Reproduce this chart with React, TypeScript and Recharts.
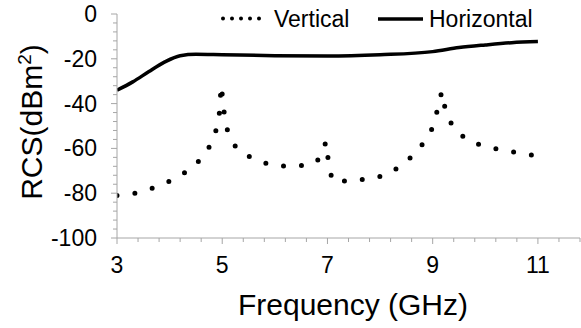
import React from 'react';
import { LineChart, Line, XAxis, YAxis, Legend } from 'recharts';

const vFreq = [3.0, 3.36, 3.7, 4.07, 4.4, 4.67, 4.85, 4.94, 4.98, 5.0, 5.03, 5.1, 5.27, 5.61, 5.97, 6.34, 6.72, 6.87, 6.97, 7.0, 7.05, 7.08, 7.2, 7.39, 7.78, 8.15, 8.48, 8.75, 8.97, 9.08, 9.15, 9.17, 9.2, 9.24, 9.39, 9.69, 10.07, 10.45, 10.83, 11.0];
const vRcs = [-81, -80, -77.6, -74, -69.2, -63, -55, -46, -32, -36, -43, -52, -60, -65, -67.6, -68, -67.1, -64.1, -57.1, -63, -69, -73.5, -75.5, -74, -73.9, -71.6, -66.4, -60, -52.3, -43.7, -37, -34.7, -38, -42.6, -51, -56.8, -59.6, -61.3, -62.8, -63.5];

const hFreq = [3.0, 3.3, 3.6, 3.9, 4.2, 4.5, 5.0, 6.0, 7.0, 8.0, 9.0, 9.5, 10.0, 10.5, 11.0];
const hRcs = [-34, -30.3, -25.8, -21.5, -18.6, -18, -18.2, -18.6, -18.8, -18.2, -16.8, -15, -13.8, -12.8, -12.3];

const xTicks = [3, 3.4, 3.8, 4.2, 4.6, 5, 5.4, 5.8, 6.2, 6.6, 7, 7.4, 7.8, 8.2, 8.6, 9, 9.4, 9.8, 10.2, 10.6, 11, 11.4, 11.8];
const xLabels = [3, 5, 7, 9, 11];
const yTicks = [0, -4, -8, -12, -16, -20, -24, -28, -32, -36, -40, -44, -48, -52, -56, -60, -64, -68, -72, -76, -80, -84, -88, -92, -96, -100];
const yLabels = [0, -20, -40, -60, -80, -100];

const seriesNames = ['Vertical', 'Horizontal'];

const vData = vFreq.map((f, i) => ({ f, v: vRcs[i] }));
const hData = hFreq.map((f, i) => ({ f, v: hRcs[i] }));

const FONT = '"Liberation Sans", Arial, sans-serif';
const AXIS = '#a6a6a6';

const XTick = (props: any) => {
  const { x, y, payload } = props;
  const val = Math.round(payload.value * 10) / 10;
  const major = xLabels.includes(val);
  return (
    <g>
      <line x1={x} x2={x} y1={y} y2={y + (major ? 6 : 4)} stroke={AXIS} strokeWidth={1} />
      {major && (
        <text x={x} y={y + 35} textAnchor="middle" fontSize={23} fill="#000" fontFamily={FONT}>
          {val}
        </text>
      )}
    </g>
  );
};

const YTick = (props: any) => {
  const { x, y, payload } = props;
  const val = Math.round(payload.value);
  const major = yLabels.includes(val);
  return (
    <g>
      <line x1={x - (major ? 6 : 4)} x2={x} y1={y} y2={y} stroke={AXIS} strokeWidth={1} />
      {major && (
        <text x={x - 20} y={y + 8} textAnchor="end" fontSize={23} fill="#000" fontFamily={FONT}>
          {val}
        </text>
      )}
    </g>
  );
};

const LegendContent = () => (
  <svg width={581} height={36} style={{ display: 'block' }}>
    <line x1={223} x2={268} y1={18.5} y2={18.5} stroke="#000" strokeWidth={4} strokeLinecap="round" strokeDasharray="0 9" />
    <text x={274} y={27} fontSize={23} fontFamily={FONT} fill="#000">{seriesNames[0]}</text>
    <line x1={378} x2={423} y1={19} y2={19} stroke="#000" strokeWidth={3.5} />
    <text x={429} y={27} fontSize={23} fontFamily={FONT} fill="#000">{seriesNames[1]}</text>
  </svg>
);

const XLabel = (props: any) => {
  const vb = props.viewBox || {};
  return (
    <text x={353} y={(vb.y || 238) + 77} textAnchor="middle" fontSize={30} fontFamily={FONT} fill="#000">
      Frequency (GHz)
    </text>
  );
};

const YLabel = () => (
  <text x={42} y={122} textAnchor="middle" fontSize={30} fontFamily={FONT} fill="#000" transform="rotate(-90, 42, 122)">
    RCS(dBm<tspan dy={-11} fontSize={19}>2</tspan><tspan dy={11}>)</tspan>
  </text>
);

export default function App() {
  return (
    <div style={{ position: 'absolute', left: 0, top: 0, width: 581, height: 328, background: '#fff' }}>
      <LineChart width={581} height={328} margin={{ top: 14, right: 1, bottom: 0, left: 0 }}>
        <XAxis
          dataKey="f"
          type="number"
          domain={[3, 11.8]}
          ticks={xTicks}
          interval={0}
          allowDataOverflow
          height={90}
          tickSize={0}
          tickMargin={0}
          tickLine={false}
          axisLine={{ stroke: AXIS, strokeWidth: 1 }}
          tick={<XTick />}
          label={<XLabel />}
        />
        <YAxis
          dataKey="v"
          type="number"
          domain={[-100, 0]}
          ticks={yTicks}
          interval={0}
          width={117}
          tickSize={0}
          tickMargin={0}
          tickLine={false}
          axisLine={{ stroke: AXIS, strokeWidth: 1 }}
          tick={<YTick />}
          label={<YLabel />}
        />
        <Legend
          verticalAlign="middle"
          layout="horizontal"
          content={<LegendContent />}
          wrapperStyle={{ position: 'absolute', left: 0, top: 0, width: 581, height: 36 }}
        />
        <Line
          data={vData}
          dataKey="v"
          name={seriesNames[0]}
          type="linear"
          stroke="#000"
          strokeWidth={5}
          strokeLinecap="round"
          strokeDasharray="0 18"
          dot={false}
          activeDot={false}
          isAnimationActive={false}
        />
        <Line
          data={hData}
          dataKey="v"
          name={seriesNames[1]}
          type="monotone"
          stroke="#000"
          strokeWidth={3.5}
          dot={false}
          activeDot={false}
          isAnimationActive={false}
        />
      </LineChart>
    </div>
  );
}
